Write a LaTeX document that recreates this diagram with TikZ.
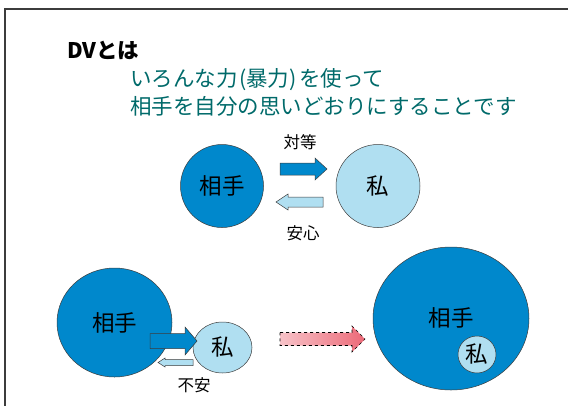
\documentclass[tikz,border=0pt]{standalone}
\usepackage{fontspec}
\setmainfont{Noto Sans CJK JP}
\usetikzlibrary{shapes.geometric}
\definecolor{dvteal}{RGB}{0,106,106}
\definecolor{dblue}{RGB}{0,136,204}
\definecolor{lblue}{RGB}{176,223,241}
\definecolor{pinkA}{RGB}{247,194,200}
\definecolor{pinkB}{RGB}{236,106,120}
\definecolor{edge}{RGB}{60,60,60}
% style, tail x, tip x, head-base x, centre y, shaft half height, head half height
\newcommand{\fatarrow}[7]{%
  \draw[#1] (#2,#5-#6) -- (#4,#5-#6) -- (#4,#5-#7) -- (#3,#5) -- (#4,#5+#7) -- (#4,#5+#6) -- (#2,#5+#6) -- cycle;}
\begin{document}
\begin{tikzpicture}[x=1pt,y=-1pt,
  circ/.style={ellipse, draw=edge, line width=0.5pt, inner sep=0pt,
    font=\fontsize{22.5}{22.5}\selectfont},
  dk/.style={circ, fill=dblue},
  lt/.style={circ, fill=lblue},
  lbl/.style={font=\fontsize{16.5}{16.5}\selectfont, inner sep=0pt},
  head/.style={anchor=west, inner sep=0pt, font=\fontsize{21.5}{22}\selectfont},
  darr/.style={draw=edge, line width=0.5pt, fill=dblue},
  larr/.style={draw=edge, line width=0.5pt, fill=lblue},
  parr/.style={draw=black, line width=0.6pt, dashed, left color=pinkA, right color=pinkB}]
\useasboundingbox (0,0) rectangle (568,405);
% frame
\draw[edge, line width=1.3pt] (5,410) -- (5,9) -- (575,9);
% heading
\node[head, font=\bfseries\fontsize{21.5}{22}\selectfont] (title) at (67,50) {DVとは};
\node[head, text=dvteal] (l1) at (130,80) {いろんな力\kern1.5pt(暴力)\kern2.5ptを使って};
\node[head, text=dvteal] (l2) at (130,106) {相手を自分の思いどおりにすることです};
% top pair
\node[dk, minimum width=83pt, minimum height=83pt] (aite1) at (222,186) {相手};
\node[lt, minimum width=84pt, minimum height=83pt] (wata1) at (378,186) {私};
\fatarrow{darr}{280}{327}{315}{169}{6}{11}
\fatarrow{larr}{323}{276}{288}{202}{5}{8}
\node[lbl] (taito) at (300,142) {対等};
\node[lbl] (anshin) at (303,233) {安心};
% bottom left
\node[dk, minimum width=115pt, minimum height=109pt] (aite2) at (114.5,322.5) {相手};
\node[lt, minimum width=59pt, minimum height=51pt] (wata2) at (222.5,347.5) {私};
\fatarrow{darr}{150}{197}{185}{341}{7.5}{14}
\fatarrow{larr}{193}{158}{165}{362.5}{3}{4.5}
\node[lbl] (fuan) at (194,385) {不安};
% transition arrow
\fatarrow{parr}{280}{365}{352}{339}{6.5}{13}
% bottom right
\node[dk, minimum width=156pt, minimum height=143pt] (aite3) at (451,318.5) {};
\node[circ, inner sep=0pt, draw=none] (aite3t) at (451,318) {相手};
\node[lt, minimum width=38pt, minimum height=37pt] (wata3) at (477,354.5) {私};
\end{tikzpicture}
\end{document}
